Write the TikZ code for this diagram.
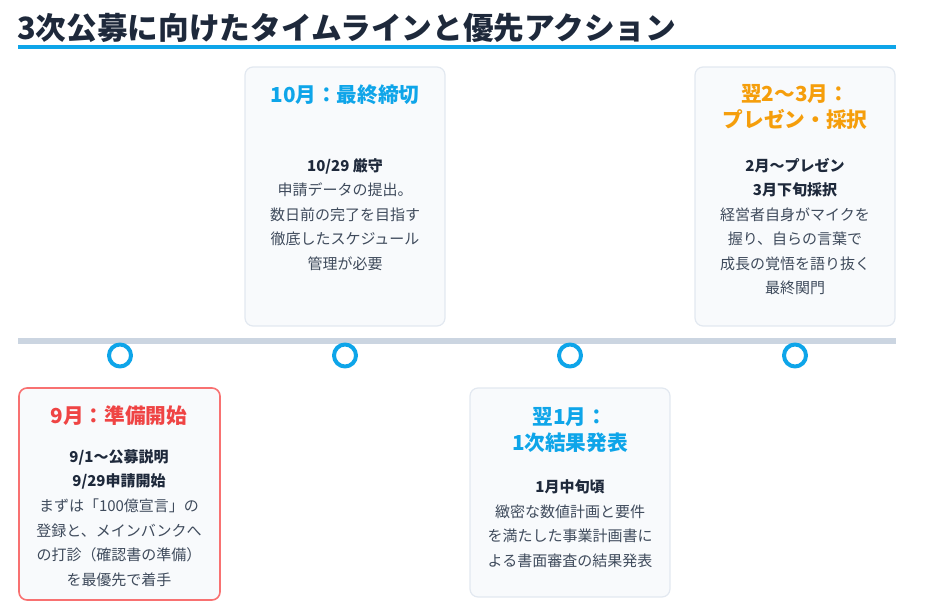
\documentclass[tikz,border=0pt]{standalone}
\usepackage{fontspec}
\setmainfont{Noto Sans CJK JP}
\definecolor{ink}{HTML}{1E293B}
\definecolor{bodytext}{HTML}{3F4B5C}
\definecolor{sky}{HTML}{0EA5E9}
\definecolor{amber}{HTML}{F59E0B}
\definecolor{alert}{HTML}{EF4444}
\definecolor{alertline}{HTML}{F87171}
\definecolor{bar}{HTML}{CBD5E1}
\definecolor{cardfill}{HTML}{F8FAFC}
\definecolor{cardline}{HTML}{E2E8F0}
\tikzset{
  card/.style={fill=cardfill,draw=cardline,line width=0.9pt,rounded corners=6pt},
  dot/.style={circle,draw=sky,fill=white,line width=3pt,minimum size=16.5pt,inner sep=0},
  head/.style={font=\fontsize{15.5}{19.5}\selectfont\bfseries,text=#1,align=center,inner sep=0},
  body/.style={font=\fontsize{11.25}{18.4}\selectfont,text=bodytext,align=center,inner sep=0}
}
\newcommand{\keyline}[1]{{\bfseries\color{ink}#1}}
\begin{document}
\begin{tikzpicture}[line cap=round,line join=round,x=0.75pt,y=-0.75pt]
	\useasboundingbox (0,0) rectangle (940,602);
	\node[anchor=west,font=\fontsize{23}{27}\selectfont\bfseries,text=ink,inner sep=0] (title) at (17,28) {3次公募に向けたタイムラインと優先アクション};
	\draw [line width=2.6pt,color=sky,line cap=butt] (18,47) -- (896,47);
	\draw [line width=4.2pt,color=bar,line cap=butt] (18,341) -- (896,341);
	\foreach \x/\n in {120/sep,345/oct,570/jan,795/feb}
		\node[dot] (dot\n) at (\x,355.5) {};
	\draw [card] (245,67) rectangle (445,326);
	\draw [card] (695,67) rectangle (895,326);
	\draw [card,draw=alertline,line width=1.2pt] (19,388) rectangle (220,600);
	\draw [card] (470,388) rectangle (670,597);
	\node[head=sky] (octhead) at (345,95) {10月：最終締切};
	\node[body] (octbody) at (345,214.5) {\keyline{10/29 厳守}\\申請データの提出。\\数日前の完了を目指す\\徹底したスケジュール\\管理が必要};
	\node[head=amber] (febhead) at (795,106.5) {翌2～3月：\\プレゼン・採択};
	\node[body] (febbody) at (795,226.5) {\keyline{2月～プレゼン}\\\keyline{3月下旬採択}\\経営者自身がマイクを\\握り、自らの言葉で\\成長の覚悟を語り抜く\\最終関門};
	\node[head=alert] (sephead) at (119,416) {9月：準備開始};
	\node[body] (sepbody) at (119,518) {\keyline{9/1～公募説明}\\\keyline{9/29申請開始}\\まずは「100億宣言」の\\登録と、メインバンクへ\\の打診（確認書の準備）\\を最優先で着手};
	\node[head=sky] (janhead) at (570,429.5) {翌1月：\\1次結果発表};
	\node[body] (janbody) at (570,523.5) {\keyline{1月中旬頃}\\緻密な数値計画と要件\\を満たした事業計画書に\\よる書面審査の結果発表};
\end{tikzpicture}
\end{document}
